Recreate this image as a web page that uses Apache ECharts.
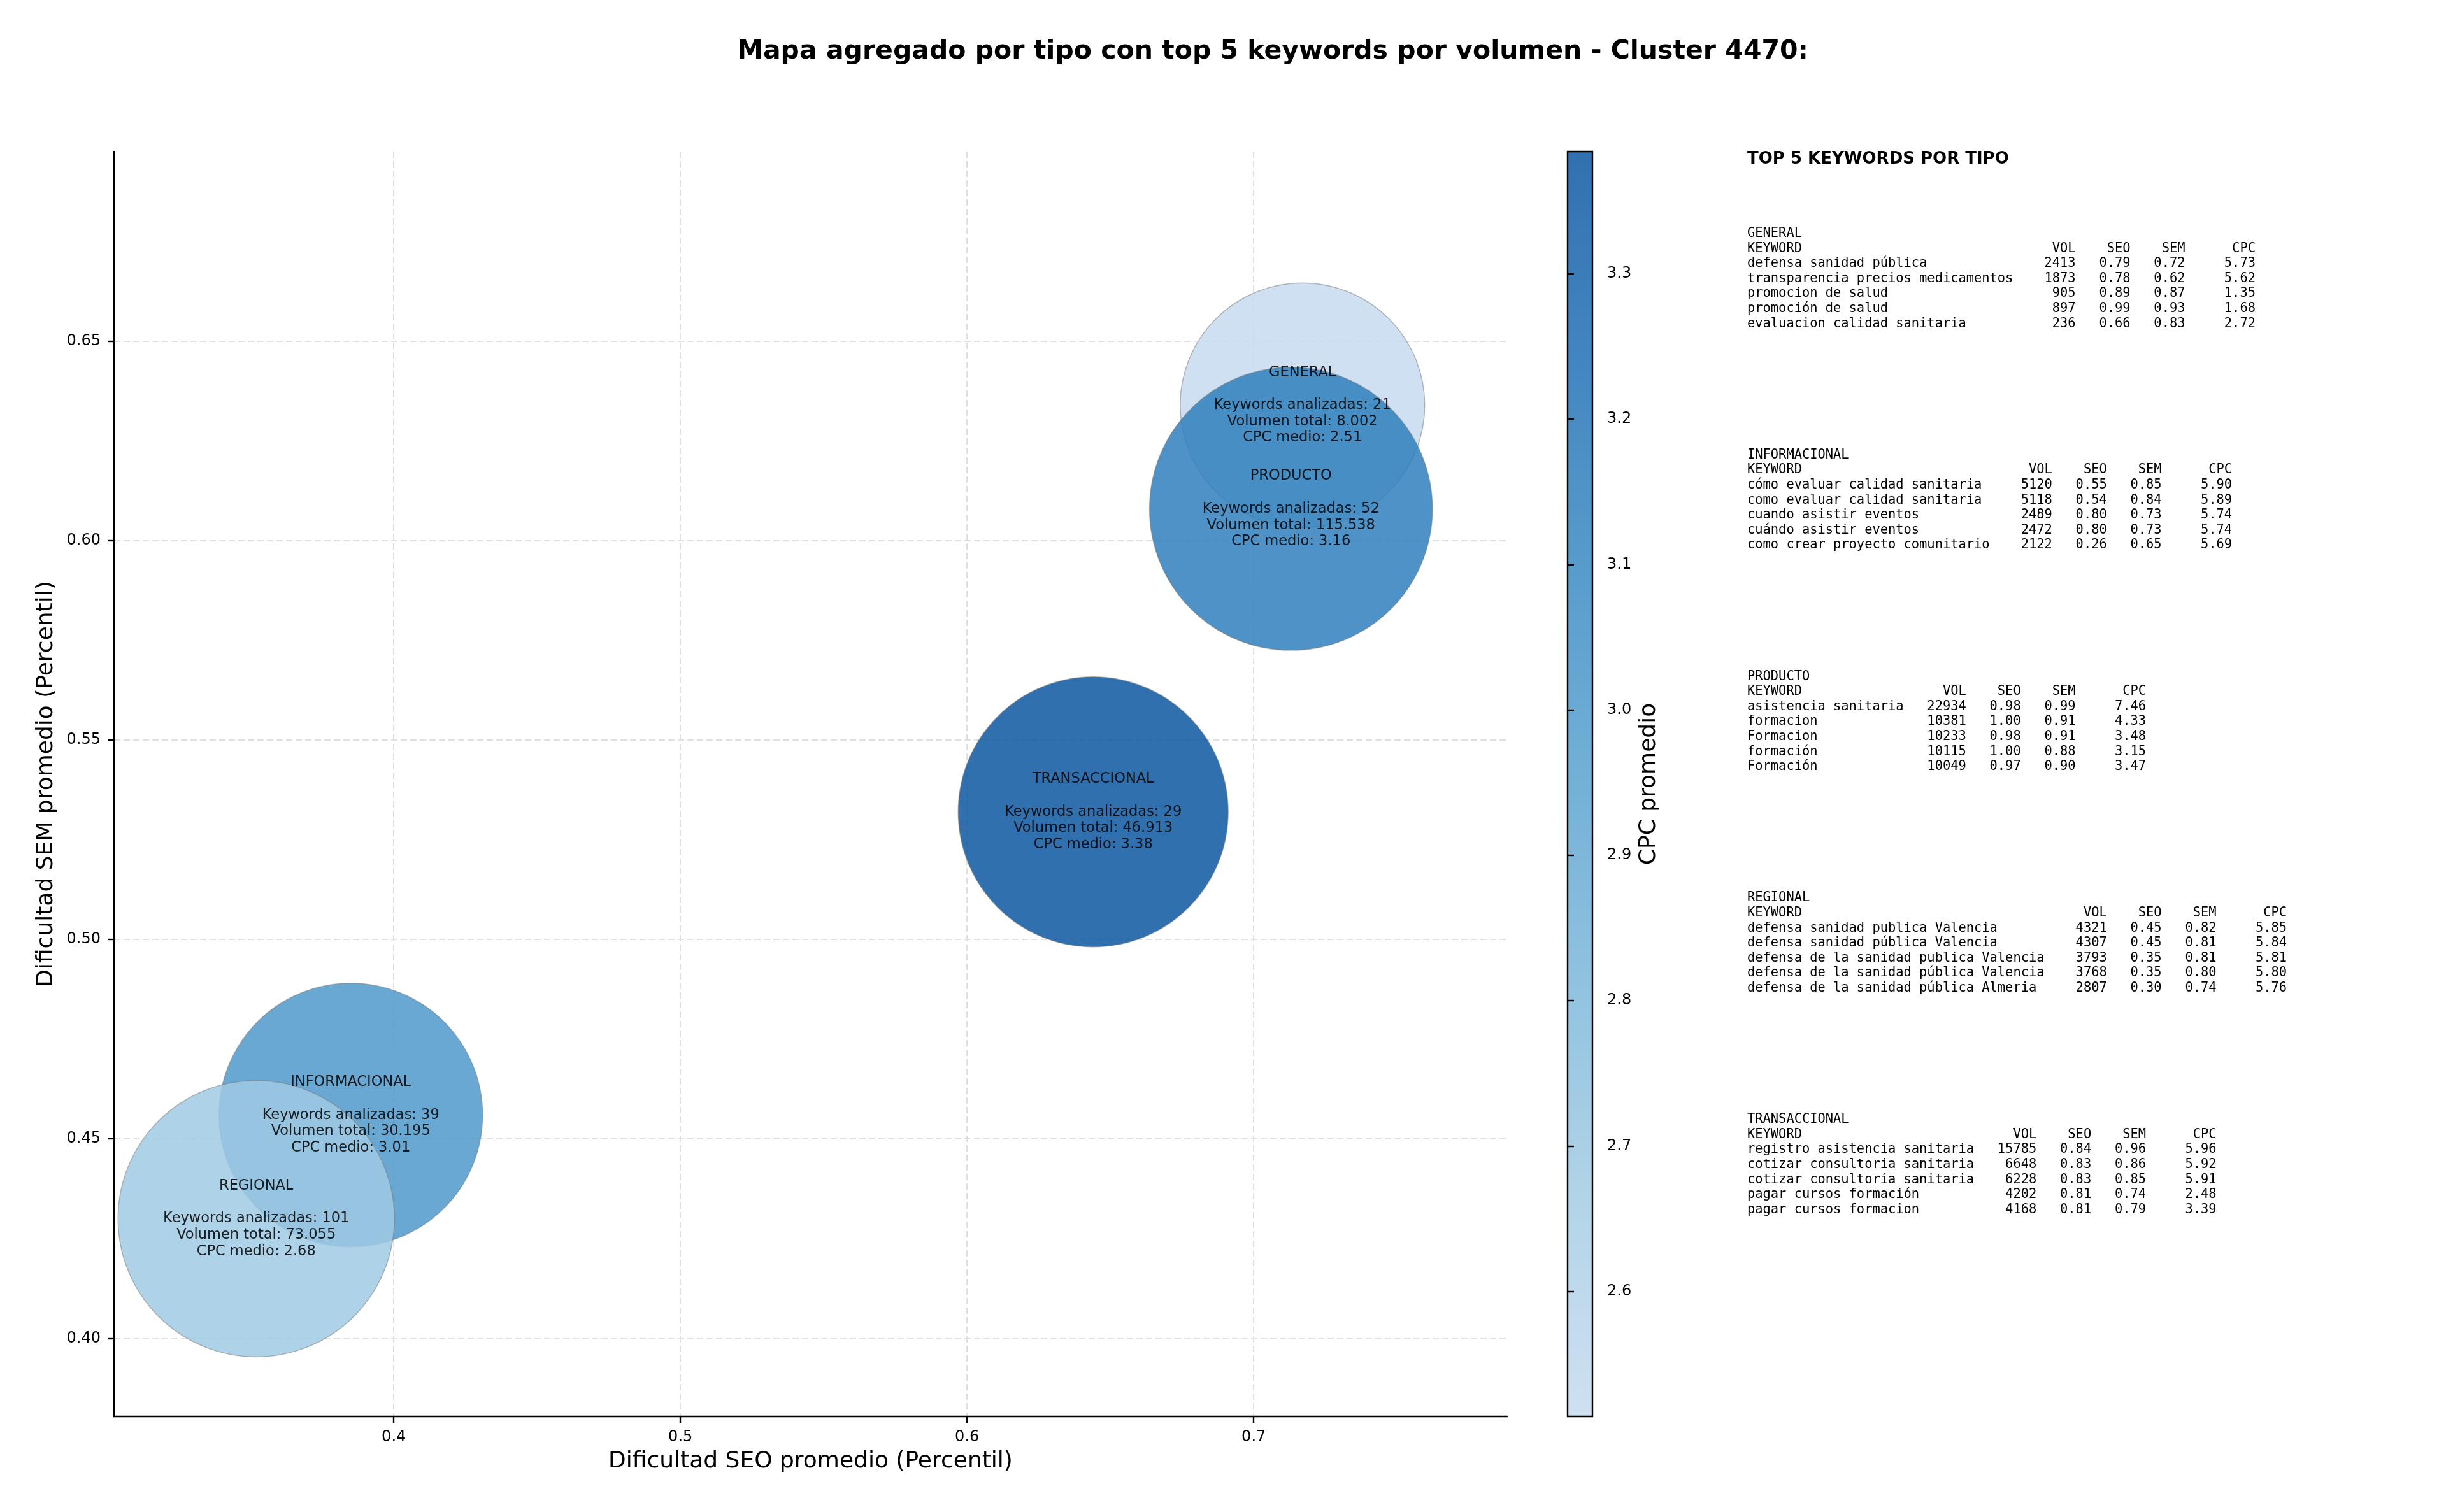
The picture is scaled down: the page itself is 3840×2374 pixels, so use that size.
<!DOCTYPE html>
<html>
<head>
<meta charset="utf-8">
<title>Mapa agregado por tipo - Cluster 4470</title>
<script src="https://cdn.jsdelivr.net/npm/echarts@6.0.0/dist/echarts.min.js"></script>
<style>
html, body { margin: 0; padding: 0; background: #fff; }
#chart { width: 3840px; height: 2374px; }
</style>
</head>
<body>
<div id="chart"></div>
<script>
// datos agregados por tipo (orden de dibujo)
var tipos = ['GENERAL', 'INFORMACIONAL', 'PRODUCTO', 'REGIONAL', 'TRANSACCIONAL'];
var seoProm = [0.717, 0.385, 0.713, 0.352, 0.644];
var semProm = [0.634, 0.456, 0.608, 0.430, 0.532];
var numKeywords = [21, 39, 52, 101, 29];
var volTotal = [8002, 30195, 115538, 73055, 46913];
var cpcMedio = [2.514, 3.01, 3.16, 2.68, 3.384];

// ticks
var xTicks = [0.4, 0.5, 0.6, 0.7];
var yTicks = [0.40, 0.45, 0.50, 0.55, 0.60, 0.65];
var cbTicks = [2.6, 2.7, 2.8, 2.9, 3.0, 3.1, 3.2, 3.3];
var xMin = 0.3024, xMax = 0.7884;
var yMin = 0.3804, yMax = 0.6976;

// top 5 keywords por tipo: [keyword, vol, seo, sem, cpc]
var topGeneral = [
    ['defensa sanidad pública', 2413, 0.79, 0.72, 5.73],
    ['transparencia precios medicamentos', 1873, 0.78, 0.62, 5.62],
    ['promocion de salud', 905, 0.89, 0.87, 1.35],
    ['promoción de salud', 897, 0.99, 0.93, 1.68],
    ['evaluacion calidad sanitaria', 236, 0.66, 0.83, 2.72]
];
var topInformacional = [
    ['cómo evaluar calidad sanitaria', 5120, 0.55, 0.85, 5.90],
    ['como evaluar calidad sanitaria', 5118, 0.54, 0.84, 5.89],
    ['cuando asistir eventos', 2489, 0.80, 0.73, 5.74],
    ['cuándo asistir eventos', 2472, 0.80, 0.73, 5.74],
    ['como crear proyecto comunitario', 2122, 0.26, 0.65, 5.69]
];
var topProducto = [
    ['asistencia sanitaria', 22934, 0.98, 0.99, 7.46],
    ['formacion', 10381, 1.00, 0.91, 4.33],
    ['Formacion', 10233, 0.98, 0.91, 3.48],
    ['formación', 10115, 1.00, 0.88, 3.15],
    ['Formación', 10049, 0.97, 0.90, 3.47]
];
var topRegional = [
    ['defensa sanidad publica Valencia', 4321, 0.45, 0.82, 5.85],
    ['defensa sanidad pública Valencia', 4307, 0.45, 0.81, 5.84],
    ['defensa de la sanidad publica Valencia', 3793, 0.35, 0.81, 5.81],
    ['defensa de la sanidad pública Valencia', 3768, 0.35, 0.80, 5.80],
    ['defensa de la sanidad pública Almeria', 2807, 0.30, 0.74, 5.76]
];
var topTransaccional = [
    ['registro asistencia sanitaria', 15785, 0.84, 0.96, 5.96],
    ['cotizar consultoria sanitaria', 6648, 0.83, 0.86, 5.92],
    ['cotizar consultoría sanitaria', 6228, 0.83, 0.85, 5.91],
    ['pagar cursos formación', 4202, 0.81, 0.74, 2.48],
    ['pagar cursos formacion', 4168, 0.81, 0.79, 3.39]
];
var topPorTipo = [topGeneral, topInformacional, topProducto, topRegional, topTransaccional];

var FONT = 'DejaVu Sans';
var MONO = 'DejaVu Sans Mono';
var ALPHA = 0.85;
// Blues (tramo 0.25 - 0.85)
var rampa = ['#c6dbef', '#a6cde4', '#7fb9da', '#5ba3d0', '#3b8bc3', '#2171b5', '#0d57a1'];

function rgba(hex, a) {
    var r = parseInt(hex.substr(1, 2), 16), g = parseInt(hex.substr(3, 2), 16), b = parseInt(hex.substr(5, 2), 16);
    return 'rgba(' + r + ',' + g + ',' + b + ',' + a + ')';
}
function miles(v) {
    return String(v).replace(/\B(?=(\d{3})+(?!\d))/g, '.');
}
function tabla(tipo, filas) {
    var w = 0;
    filas.forEach(function (f) { w = Math.max(w, f[0].length); });
    var lineas = [tipo, 'KEYWORD'.padEnd(w) + 'VOL'.padStart(8) + 'SEO'.padStart(7) + 'SEM'.padStart(7) + 'CPC'.padStart(9)];
    filas.forEach(function (f) {
        lineas.push(f[0].padEnd(w) + String(f[1]).padStart(8) + f[2].toFixed(2).padStart(7) +
            f[3].toFixed(2).padStart(7) + f[4].toFixed(2).padStart(9));
    });
    return lineas.join('\n');
}

var cpcMin = Math.min.apply(null, cpcMedio);
var cpcMax = Math.max.apply(null, cpcMedio);

var gradStops = rampa.map(function (c, i) {
    return { offset: i / (rampa.length - 1), color: rgba(c, ALPHA) };
});

var datos = tipos.map(function (t, i) {
    return [seoProm[i], semProm[i], cpcMedio[i], volTotal[i], numKeywords[i], t];
});

var axisLineStyle = { color: '#000', width: 2.4 };
var tickStyle = { color: '#000', width: 2.4 };
var labelStyle = { color: '#000', fontFamily: FONT, fontSize: 24 };
var nameStyle = { color: '#000', fontFamily: FONT, fontSize: 36 };
var gridLine = { show: true, lineStyle: { color: '#e0e0e0', width: 2, type: [10, 5] } };

var graficos = [
    {
        type: 'text', x: 1998, y: 81,
        style: {
            text: 'Mapa agregado por tipo con top 5 keywords por volumen - Cluster 4470:',
            fontFamily: FONT, fontSize: 41, fontWeight: 'bold', fill: '#000',
            align: 'center', verticalAlign: 'middle'
        }
    },
    {
        type: 'text', x: 2743, y: 250,
        style: {
            text: 'TOP 5 KEYWORDS POR TIPO',
            fontFamily: FONT, fontSize: 26, fontWeight: 'bold', fill: '#000',
            align: 'left', verticalAlign: 'middle'
        }
    }
];
tipos.forEach(function (t, i) {
    graficos.push({
        type: 'text', x: 2743, y: 355 + i * 347.8,
        style: {
            text: tabla(t, topPorTipo[i]),
            fontFamily: MONO, fontSize: 20.4, lineHeight: 23.6, fill: '#000',
            align: 'left', verticalAlign: 'top'
        }
    });
});

var chart = echarts.init(document.getElementById('chart'));
var option = {
    backgroundColor: '#fff',
    animation: false,
    graphic: graficos,
    grid: [
        { left: 179, top: 238, width: 2187, height: 1986 },
        {
            left: 2461, top: 238, width: 39, height: 1986, show: true,
            backgroundColor: new echarts.graphic.LinearGradient(0, 1, 0, 0, gradStops),
            borderColor: '#000', borderWidth: 2.4
        }
    ],
    visualMap: {
        show: false, type: 'continuous', seriesIndex: 0, dimension: 2,
        min: cpcMin, max: cpcMax, inRange: { color: rampa }
    },
    xAxis: [
        {
            gridIndex: 0, type: 'value', min: xMin, max: xMax,
            axisLine: { show: true, onZero: false, lineStyle: axisLineStyle },
            axisTick: { show: true, length: 10, customValues: xTicks, lineStyle: tickStyle },
            axisLabel: Object.assign({ customValues: xTicks, margin: 21, formatter: function (v) { return v.toFixed(1); } }, labelStyle),
            splitLine: gridLine,
            name: 'Dificultad SEO promedio (Percentil)', nameLocation: 'middle', nameGap: 53,
            nameTextStyle: nameStyle
        },
        { gridIndex: 1, type: 'value', min: 0, max: 1, show: false }
    ],
    yAxis: [
        {
            gridIndex: 0, type: 'value', min: yMin, max: yMax,
            axisLine: { show: true, onZero: false, lineStyle: axisLineStyle },
            axisTick: { show: true, length: 10, customValues: yTicks, lineStyle: tickStyle },
            axisLabel: Object.assign({ customValues: yTicks, margin: 21, formatter: function (v) { return v.toFixed(2); } }, labelStyle),
            splitLine: gridLine,
            name: 'Dificultad SEM promedio (Percentil)', nameLocation: 'middle', nameGap: 88,
            nameTextStyle: nameStyle
        },
        {
            gridIndex: 1, type: 'value', position: 'right', min: cpcMin, max: cpcMax,
            axisLine: { show: false },
            axisTick: { show: true, inside: false, length: 10, customValues: cbTicks, lineStyle: tickStyle },
            axisLabel: Object.assign({ customValues: cbTicks, margin: 23, formatter: function (v) { return v.toFixed(1); } }, labelStyle),
            splitLine: { show: false },
            name: 'CPC promedio', nameLocation: 'middle', nameGap: 71,
            nameTextStyle: nameStyle
        }
    ],
    series: [
        {
            type: 'scatter', xAxisIndex: 0, yAxisIndex: 0,
            data: datos,
            symbolSize: function (d) { return 181 + 52 * Math.log10(d[3]); },
            itemStyle: { opacity: ALPHA, borderColor: 'rgba(120,120,120,0.6)', borderWidth: 1.5 },
            label: {
                show: true, position: 'inside', color: '#000',
                fontFamily: FONT, fontSize: 22.5, lineHeight: 25.7, align: 'center',
                formatter: function (p) {
                    var d = p.data;
                    return d[5] + '\n\nKeywords analizadas: ' + d[4] + '\nVolumen total: ' + miles(d[3]) +
                        '\nCPC medio: ' + d[2].toFixed(2);
                }
            },
            emphasis: { disabled: true }
        }
    ]
};
chart.setOption(option);
</script>
</body>
</html>
